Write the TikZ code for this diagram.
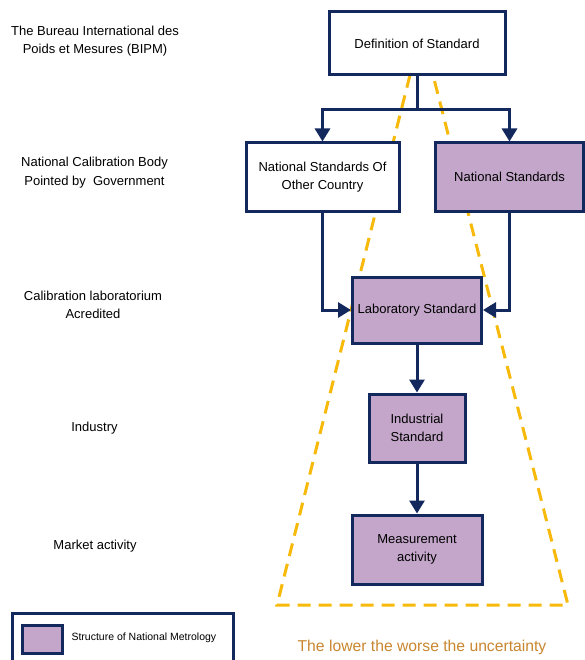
\documentclass[tikz,border=0pt]{standalone}
\usepackage{fontspec}
\setmainfont{Liberation Sans}
\usetikzlibrary{arrows.meta}
\definecolor{metro_navy}{HTML}{13295E}
\definecolor{metro_purple}{HTML}{C3A6CA}
\definecolor{metro_gold}{HTML}{F7BA0A}
\definecolor{metro_brown}{HTML}{C9862F}

\tikzset{
  stdbox/.style={draw=metro_navy, line width=3pt, fill=white, align=center,
    font=\fontsize{13}{18}\selectfont, inner sep=2pt},
  natbox/.style={stdbox, fill=metro_purple},
  levellabel/.style={align=center, font=\fontsize{13}{18.5}\selectfont},
  flow/.style={draw=metro_navy, line width=3pt,
    -{Triangle[width=15pt,length=13pt]}},
  uncert/.style={draw=metro_gold, line width=3pt, dash pattern=on 13pt off 8pt}
}

\begin{document}
\begin{tikzpicture}[x=1pt, y=-1pt]
      \clip (0,0) rectangle (585,660);
      \fill[white] (0,0) rectangle (585,660);
      % Uncertainty trapezoid (behind the boxes)
      \coordinate (tl) at (410,75);
      \coordinate (tr) at (433,75);
      \coordinate (bl) at (277,605);
      \coordinate (br) at (568,605);
      \draw[uncert] (tl) -- (bl) -- (br) -- (tr);
      % Boxes of the chain
      \node[stdbox, minimum width=176pt, minimum height=63pt] (def) at (417,43.5) {Definition of Standard};
      \node[stdbox, minimum width=153pt, minimum height=68pt] (other) at (322.5,177) {National Standards Of\\Other Country};
      \node[natbox, minimum width=148pt, minimum height=68pt] (natstd) at (509.5,177) {National Standards};
      \node[natbox, minimum width=129pt, minimum height=66pt] (lab) at (417,310) {Laboratory Standard};
      \node[natbox, minimum width=96pt, minimum height=68pt] (ind) at (417,428) {Industrial\\Standard};
      \node[natbox, minimum width=130pt, minimum height=69pt] (meas) at (417,549.5) {Measurement\\activity};
      % Connectors
      \coordinate (fork) at (417,110);
      \draw[flow, -] (def) -- (fork);
      \draw[flow] (fork) -| (other);
      \draw[flow] (fork) -| (natstd);
      \draw[flow] (other.south) |- (lab.west);
      \draw[flow] (natstd.south) |- (lab.east);
      \draw[flow] (lab) -- (ind);
      \draw[flow] (ind) -- (meas);
      % Level labels
      \node[levellabel] (bipm) at (95,41) {The Bureau International des\\Poids et Mesures (BIPM)};
      \node[levellabel] (ncb) at (94.5,172.5) {National Calibration Body\\Pointed by\ \ Government};
      \node[levellabel] (cal) at (93,305) {Calibration laboratorium\\Acredited};
      \node[levellabel] (indus) at (94.5,428) {Industry};
      \node[levellabel] (market) at (95,546) {Market activity};
      % Legend
      \draw[draw=metro_navy, line width=3pt, fill=white] (12,613) rectangle (233,670);
      \node[natbox, minimum width=40pt, minimum height=28pt] (swatch) at (42,639) {};
      \node[anchor=west, font=\fontsize{10.5}{12}\selectfont] (legtext) at (68,638) {Structure of National Metrology};
      \node[text=metro_brown, font=\fontsize{15.7}{19}\selectfont] (lower) at (422,647) {The lower the worse the uncertainty};
    \end{tikzpicture}
\end{document}
